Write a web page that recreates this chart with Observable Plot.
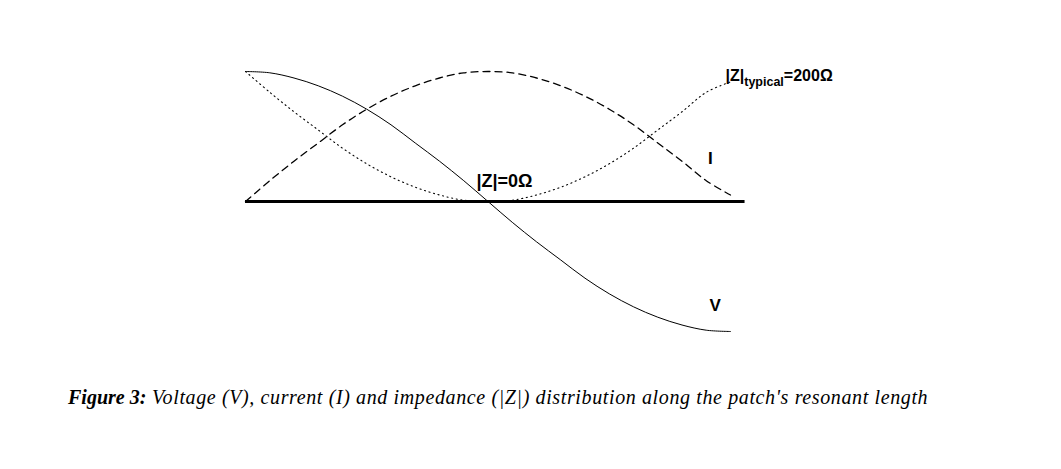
<!DOCTYPE html>
<html>
<head>
<meta charset="utf-8">
<script src="https://cdn.jsdelivr.net/npm/d3@7"></script>
<script src="https://cdn.jsdelivr.net/npm/@observablehq/plot@0.6"></script>
<style>
  html, body { margin: 0; padding: 0; background: #fff; }
  #wrap { position: relative; width: 1061px; height: 469px; }
  #caption {
    position: absolute; left: 68px; top: 385px; white-space: nowrap;
    font-family: "Liberation Serif", "Times New Roman", serif;
    font-style: italic; font-size: 20px; line-height: 24px; color: #000;
  }
  #caption b { font-weight: bold; }
  #caption .rest { letter-spacing: 0.62px; }
</style>
</head>
<body>
<div id="wrap">
  <div id="chart"></div>
  <div id="caption"><b>Figure 3:</b><span class="rest"> Voltage (V), current (I) and impedance (|Z|) distribution along the patch's resonant length</span></div>
</div>
<script>
// Position along the patch's resonant length (0 = one edge, 100 = other edge)
const position = [0, 5, 10, 15, 20, 25, 30, 35, 40, 45, 50, 55, 60, 65, 70, 75, 80, 85, 90, 95, 100];
// Voltage (V), normalised
const voltage = [1.00, 0.99, 0.95, 0.89, 0.81, 0.71, 0.59, 0.45, 0.31, 0.16, 0.00, -0.16, -0.31, -0.45, -0.59, -0.71, -0.81, -0.89, -0.95, -0.99, -1.00];
// Current (I), normalised
const current = [0.00, 0.16, 0.31, 0.45, 0.59, 0.71, 0.81, 0.89, 0.95, 0.99, 1.00, 0.99, 0.95, 0.89, 0.81, 0.71, 0.59, 0.45, 0.31, 0.16, 0.05];
// Impedance |Z|, normalised
const impedance = [1.00, 0.84, 0.69, 0.55, 0.41, 0.29, 0.19, 0.11, 0.05, 0.01, 0.00, 0.01, 0.05, 0.11, 0.19, 0.29, 0.41, 0.55, 0.69, 0.84, 0.92];
// Extent of the patch (ground line)
const patchSpan = [0, 103];
// Label texts
const labelZmax = "|Z|typical=200Ω";
const labelZmin = "|Z|=0Ω";
const labelI = "I";
const labelV = "V";

const rows = position.map((x, i) => ({x, V: voltage[i], I: current[i], Z: impedance[i]}));
const last = rows[rows.length - 1];
const mid = rows[10];
const near = rows[19];

const sans = "'Liberation Sans', Arial, Helvetica, sans-serif";

const chart = Plot.plot({
  width: 1061,
  height: 370,
  marginLeft: 245,
  marginRight: 331,
  marginTop: 71,
  marginBottom: 39,
  x: {axis: null, domain: [0, 100]},
  y: {axis: null, domain: [-1, 1]},
  style: {background: "#fff"},
  marks: [
    Plot.ruleY([0], {x1: patchSpan[0], x2: patchSpan[1], stroke: "#000", strokeWidth: 3}),
    Plot.line(rows, {x: "x", y: "Z", curve: "catmull-rom", stroke: "#000", strokeWidth: 1.1, strokeDasharray: "1.1,3.6"}),
    Plot.line(rows, {x: "x", y: "I", curve: "catmull-rom", stroke: "#000", strokeWidth: 1.3, strokeDasharray: "7,5"}),
    Plot.line(rows, {x: "x", y: "V", curve: "catmull-rom", stroke: "#000", strokeWidth: 1}),
    Plot.text([last], {x: "x", y: "Z", text: () => labelZmax, textAnchor: "start", dx: -5, dy: -6, fontSize: 16, fontWeight: "bold", fontFamily: sans, fill: "#000"}),
    Plot.text([mid], {x: "x", y: "Z", text: () => labelZmin, textAnchor: "start", dx: -11.5, dy: -20, fontSize: 18, fontWeight: "bold", fontFamily: sans, fill: "#000"}),
    Plot.text([near], {x: "x", y: "I", text: () => labelI, textAnchor: "middle", dx: 4, dy: -22, fontSize: 17, fontWeight: "bold", fontFamily: sans, fill: "#000"}),
    Plot.text([near], {x: "x", y: "V", text: () => labelV, textAnchor: "middle", dx: 9, dy: -25, fontSize: 17, fontWeight: "bold", fontFamily: sans, fill: "#000"})
  ]
});

// subscript "typical"
chart.querySelectorAll("text").forEach(t => {
  if (t.textContent === labelZmax) {
    t.innerHTML = '|Z|<tspan dy="5" font-size="12.5">typical</tspan><tspan dy="-5">=200Ω</tspan>';
  }
});

document.getElementById("chart").appendChild(chart);
</script>
</body>
</html>
